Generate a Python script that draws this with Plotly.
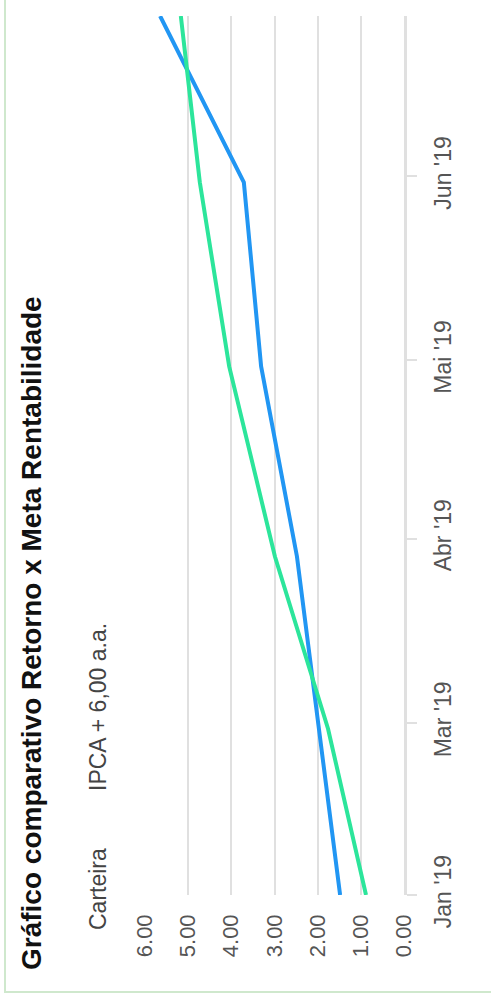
import plotly.graph_objects as go

# ---- data ----
dates = ["2019-01-31", "2019-02-28", "2019-03-29", "2019-04-30", "2019-05-31", "2019-06-28"]
carteira = [1.48, 1.97, 2.48, 3.31, 3.71, 5.65]
ipca_meta = [0.88, 1.76, 2.99, 4.05, 4.73, 5.17]
series_names = ["Carteira", "IPCA + 6,00 a.a."]
date_tick_vals = ["2019-01-31", "2019-03-01", "2019-04-01", "2019-05-01", "2019-06-01"]
date_tick_text = ["Jan '19", "Mar '19", "Abr '19", "Mai '19", "Jun '19"]
value_ticks = [0, 1, 2, 3, 4, 5, 6]
title_text = "Gráfico comparativo Retorno x Meta Rentabilidade"

W, H = 491, 1002
L, R, T, B = 145, 87, 16, 107
PW, PH = W - L - R, H - T - B

def px_x(px):
    return (px - L) / PW

def px_y(py):
    return (H - B - py) / PH

FONT = "Liberation Sans, Arial, sans-serif"

fig = go.Figure()
fig.add_trace(go.Scatter(x=carteira, y=dates, mode="lines", name=series_names[0],
                         line=dict(color="#2196f3", width=4)))
fig.add_trace(go.Scatter(x=ipca_meta, y=dates, mode="lines", name=series_names[1],
                         line=dict(color="#2ce59b", width=4)))

fig.update_layout(
    width=W, height=H,
    margin=dict(l=L, r=R, t=T, b=B, pad=0),
    paper_bgcolor="white", plot_bgcolor="white",
    showlegend=False,
    font=dict(family=FONT, color="#333333"),
    xaxis=dict(range=[6, 0], tickvals=value_ticks, tickformat=".2f",
               showgrid=True, gridcolor="#e0e0e0", gridwidth=2,
               zeroline=False, showline=False, ticks="",
               tickangle=-90, tickfont=dict(size=22, color="#555555"),
               ticklabelstandoff=14, fixedrange=True),
    yaxis=dict(type="date", range=[dates[0], dates[-1]], side="right",
               tickvals=date_tick_vals, ticktext=date_tick_text,
               showgrid=False, zeroline=False,
               showline=True, linecolor="#e0e0e0", linewidth=3,
               ticks="outside", ticklen=10, tickwidth=2, tickcolor="#e0e0e0",
               tickangle=-90, tickfont=dict(size=23, color="#555555"),
               ticklabelstandoff=6, fixedrange=True),
)

fig.add_shape(type="rect", xref="paper", yref="paper",
              x0=px_x(5), x1=px_x(500), y0=px_y(992), y1=px_y(-10),
              line=dict(color="#cfe8cd", width=2), fillcolor="rgba(0,0,0,0)", layer="below")

fig.add_annotation(text="<b>" + title_text + "</b>", xref="paper", yref="paper",
                   x=px_x(31), y=px_y(633), textangle=-90, showarrow=False,
                   xanchor="center", yanchor="middle",
                   font=dict(size=28, color="#111111", family=FONT))
fig.add_annotation(text=series_names[0], xref="paper", yref="paper",
                   x=px_x(98), y=px_y(889), textangle=-90, showarrow=False,
                   xanchor="center", yanchor="middle",
                   font=dict(size=23, color="#444444", family=FONT))
fig.add_annotation(text=series_names[1], xref="paper", yref="paper",
                   x=px_x(98), y=px_y(707), textangle=-90, showarrow=False,
                   xanchor="center", yanchor="middle",
                   font=dict(size=23, color="#444444", family=FONT))

fig.write_html("out.html", config={"displayModeBar": False, "staticPlot": True},
               post_script="document.body.style.margin='0';document.body.style.overflow='hidden';")
